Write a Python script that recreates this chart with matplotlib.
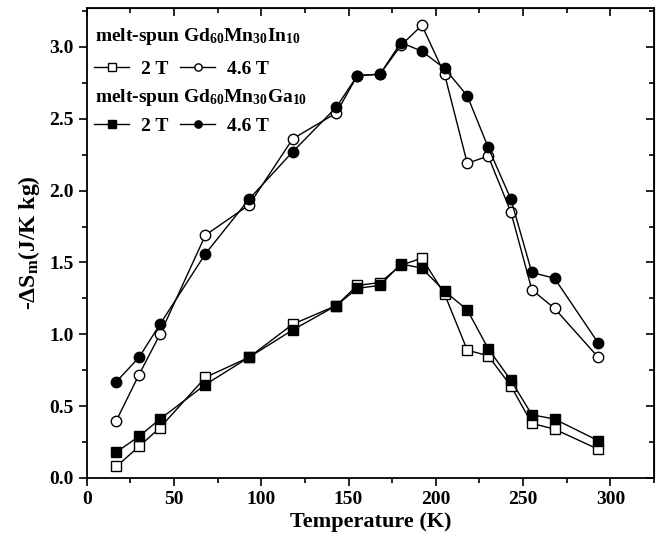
import numpy as np
import matplotlib
matplotlib.use("Agg")
import matplotlib.pyplot as plt
from matplotlib.ticker import MultipleLocator

plt.rcParams['font.family'] = ['Liberation Serif', 'DejaVu Serif']
plt.rcParams['font.weight'] = 'bold'
plt.rcParams['mathtext.fontset'] = 'custom'
plt.rcParams['mathtext.rm'] = 'Liberation Serif:bold'
plt.rcParams['mathtext.bf'] = 'Liberation Serif:bold'
plt.rcParams['mathtext.it'] = 'Liberation Serif:bold'
plt.rcParams['mathtext.default'] = 'rm'

# temperatures (K)
temp = [17, 30, 42, 68, 93, 118, 143, 155, 168, 180, 192, 205, 218, 230, 243, 255, 268, 293]

# -dS_m (J/K kg)
in_2T = [0.08, 0.22, 0.35, 0.70, 0.84, 1.07, 1.20, 1.34, 1.36, 1.48, 1.53, 1.28,
         0.89, 0.85, 0.64, 0.38, 0.34, 0.20]
ga_2T = [0.18, 0.29, 0.41, 0.65, 0.84, 1.03, 1.20, 1.32, 1.34, 1.49, 1.46, 1.30,
         1.17, 0.90, 0.68, 0.44, 0.41, 0.26]
in_46T = [0.40, 0.72, 1.00, 1.69, 1.90, 2.36, 2.54, 2.80, 2.81, 3.01, 3.15, 2.81,
          2.19, 2.24, 1.85, 1.31, 1.18, 0.84]
ga_46T = [0.67, 0.84, 1.07, 1.56, 1.94, 2.27, 2.58, 2.80, 2.81, 3.03, 2.97, 2.85,
          2.66, 2.30, 1.94, 1.43, 1.39, 0.94]

fig = plt.figure(figsize=(6.64, 5.39), dpi=100)
ax = fig.add_axes([0.1306, 0.1132, 0.8544, 0.8718])

ms = 7.5
l1, = ax.plot(temp, in_2T, 's-', color='k', lw=1, mfc='white', mec='k', mew=1, ms=ms, label='2 T')
l2, = ax.plot(temp, in_46T, 'o-', color='k', lw=1, mfc='white', mec='k', mew=1, ms=ms, label='4.6 T')
l3, = ax.plot(temp, ga_2T, 's-', color='k', lw=1, mfc='k', mec='k', ms=ms, label='2 T')
l4, = ax.plot(temp, ga_46T, 'o-', color='k', lw=1, mfc='k', mec='k', ms=ms, label='4.6 T')

ax.set_xlim(0, 325)
ax.set_ylim(0, 3.27)
ax.xaxis.set_major_locator(MultipleLocator(50))
ax.xaxis.set_minor_locator(MultipleLocator(25))
ax.yaxis.set_major_locator(MultipleLocator(0.5))
ax.yaxis.set_minor_locator(MultipleLocator(0.25))
ax.yaxis.set_major_formatter(matplotlib.ticker.FormatStrFormatter('%.1f'))
ax.tick_params(which='major', direction='out', length=6, width=1.2, labelsize=14)
ax.tick_params(which='minor', direction='out', length=3.5, width=1.2)
for s in ax.spines.values():
    s.set_linewidth(1.3)

# mirrored ticks pointing inward on top/right
top = ax.secondary_xaxis('top')
top.xaxis.set_major_locator(MultipleLocator(50))
top.xaxis.set_minor_locator(MultipleLocator(25))
top.tick_params(which='major', direction='in', length=6, width=1.2, labeltop=False)
top.tick_params(which='minor', direction='in', length=3.5, width=1.2)
right = ax.secondary_yaxis('right')
right.yaxis.set_major_locator(MultipleLocator(0.5))
right.yaxis.set_minor_locator(MultipleLocator(0.25))
right.tick_params(which='major', direction='in', length=6, width=1.2, labelright=False)
right.tick_params(which='minor', direction='in', length=3.5, width=1.2)

ax.set_xlabel('Temperature (K)', fontsize=16, fontweight='bold', labelpad=3)
ax.set_ylabel(r'-$\Delta$S$_{\rm m}$(J/K kg)', fontsize=17, fontweight='bold', labelpad=5)

ax.text(0.014, 0.93, r'melt-spun Gd$_{60}$Mn$_{30}$In$_{10}$', transform=ax.transAxes,
        fontsize=14, fontweight='bold', va='baseline')
ax.text(0.014, 0.80, r'melt-spun Gd$_{60}$Mn$_{30}$Ga$_{10}$', transform=ax.transAxes,
        fontsize=14, fontweight='bold', va='baseline')

leg_kw = dict(ncol=2, frameon=False, handlelength=1.8, handletextpad=0.6,
              columnspacing=0.6, borderaxespad=0, markerscale=0.7,
              prop={'weight': 'bold', 'size': 14})
leg1 = ax.legend(handles=[l1, l2], loc='upper left', bbox_to_anchor=(0.0, 0.905), **leg_kw)
ax.add_artist(leg1)
ax.legend(handles=[l3, l4], loc='upper left', bbox_to_anchor=(0.0, 0.784), **leg_kw)

fig.savefig('out.png', dpi=100)
